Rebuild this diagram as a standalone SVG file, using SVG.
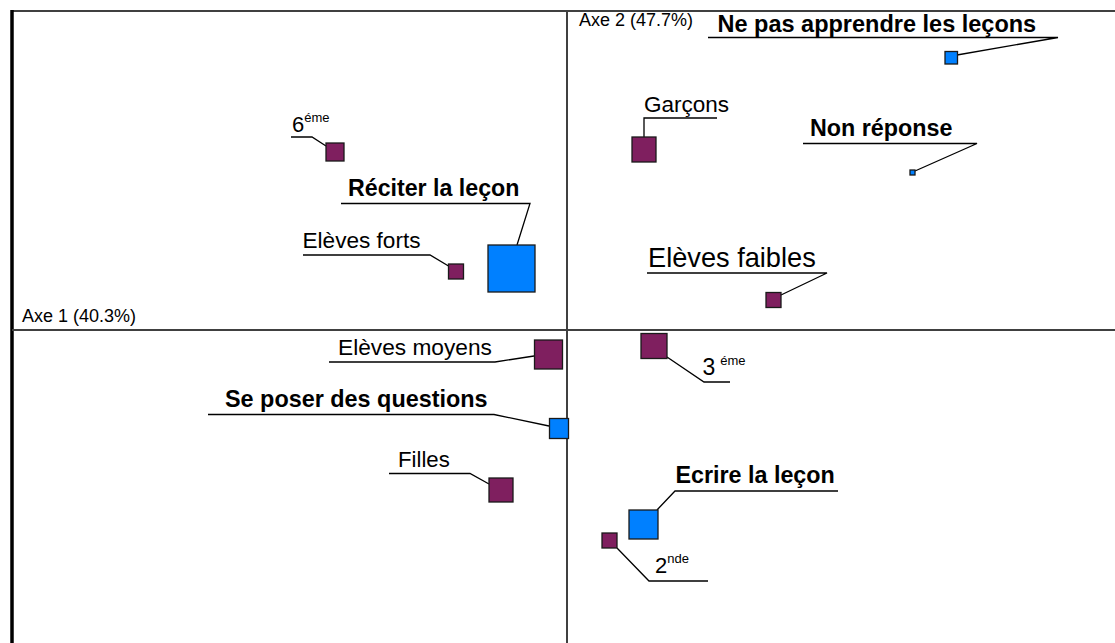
<svg xmlns="http://www.w3.org/2000/svg" width="1115" height="643" viewBox="0 0 1115 643">
<style>
.frame{stroke:#404040;stroke-width:2.2;fill:none}
.axis{stroke:#404040;stroke-width:2;fill:none}
.lead{stroke:#000;stroke-width:1.3;fill:none}
.p{fill:#7F1F5F;stroke:#1a1a1a;stroke-width:1.3}
.b{fill:#0080FF;stroke:#1a1a1a;stroke-width:1.3}
text{font-family:"Liberation Sans",Arial,sans-serif;fill:#000}
.bold{font-weight:bold}
.ax{font-size:18px}
.sup{font-size:13px}
</style>
<rect width="1115" height="643" fill="#fff"/>
<g id="frame">
<line class="frame" x1="11" y1="11" x2="1115" y2="11"/>
<line x1="12" y1="10" x2="12" y2="643" stroke="#000" stroke-width="3.5"/>
</g>
<g id="axes">
<line class="axis" x1="567" y1="10" x2="567" y2="643"/>
<line class="axis" x1="12" y1="330" x2="1115" y2="330"/>
<text class="ax" x="22" y="322">Axe 1 (40.3%)</text>
<text class="ax" x="579" y="26">Axe 2 (47.7%)</text>
</g>
<g id="connectors">
<polyline class="lead" points="291,137 312,137 326,146"/>
<polyline class="lead" points="708,37.5 1058,37.5 957,55"/>
<polyline class="lead" points="644,137 644,118 717,118"/>
<polyline class="lead" points="803,143.5 977,143.5 915,171"/>
<polyline class="lead" points="341,203.5 530,203.5 517,245"/>
<polyline class="lead" points="303,255 430,255 448.5,266"/>
<polyline class="lead" points="647,273 827,273 781,295"/>
<polyline class="lead" points="667,357 704,382 730,382"/>
<polyline class="lead" points="329,362 495,362 534,356"/>
<polyline class="lead" points="208,414.5 494,414.5 549,426"/>
<polyline class="lead" points="389,473.5 470,473.5 489,484"/>
<polyline class="lead" points="657,510 675,491 838,491"/>
<polyline class="lead" points="617,548 649,581 708,581"/>
</g>
<g id="n-6eme">
<rect class="p" x="326" y="143" width="18" height="18"/>
<text x="292" y="132" font-size="22">6<tspan class="sup" dy="-10" font-size="12.5">éme</tspan></text>
</g>
<g id="n-ne-pas">
<rect class="b" x="945" y="51.5" width="12.5" height="12.5"/>
<text class="bold" x="717.5" y="31.5" font-size="23.5">Ne pas apprendre les leçons</text>
</g>
<g id="n-garcons">
<rect class="p" x="632" y="137" width="24" height="25"/>
<text x="644" y="111.5" font-size="22.5">Garçons</text>
</g>
<g id="n-non-reponse">
<rect class="b" x="910" y="170" width="5" height="5"/>
<text class="bold" x="810" y="136" font-size="23.3">Non réponse</text>
</g>
<g id="n-reciter">
<rect class="b" x="488" y="245" width="47" height="47"/>
<text class="bold" x="348" y="196" font-size="23.2">Réciter la leçon</text>
</g>
<g id="n-forts">
<rect class="p" x="448.5" y="264" width="15" height="15"/>
<text x="302.5" y="248" font-size="22.6">Elèves forts</text>
</g>
<g id="n-faibles">
<rect class="p" x="766" y="292.5" width="15" height="15"/>
<text x="648" y="266.5" font-size="27.2">Elèves faibles</text>
</g>
<g id="n-3eme">
<rect class="p" x="641" y="333.5" width="26" height="25"/>
<text x="702.5" y="375" font-size="23">3<tspan class="sup" dx="5" dy="-10" font-size="12.5">éme</tspan></text>
</g>
<g id="n-moyens">
<rect class="p" x="534.5" y="340" width="28" height="29"/>
<text x="338" y="355" font-size="22.7">Elèves moyens</text>
</g>
<g id="n-questions">
<rect class="b" x="549.5" y="418.5" width="19" height="20"/>
<text class="bold" x="225" y="406.5" font-size="23.4">Se poser des questions</text>
</g>
<g id="n-filles">
<rect class="p" x="489" y="478" width="24" height="24"/>
<text x="398" y="466.5" font-size="22.2">Filles</text>
</g>
<g id="n-ecrire">
<rect class="b" x="629" y="510" width="29" height="29"/>
<text class="bold" x="675.5" y="483" font-size="23.3">Ecrire la leçon</text>
</g>
<g id="n-2nde">
<rect class="p" x="602" y="533" width="15" height="15"/>
<text x="655" y="573" font-size="22">2<tspan class="sup" dy="-10" font-size="12.5">nde</tspan></text>
</g>
</svg>
